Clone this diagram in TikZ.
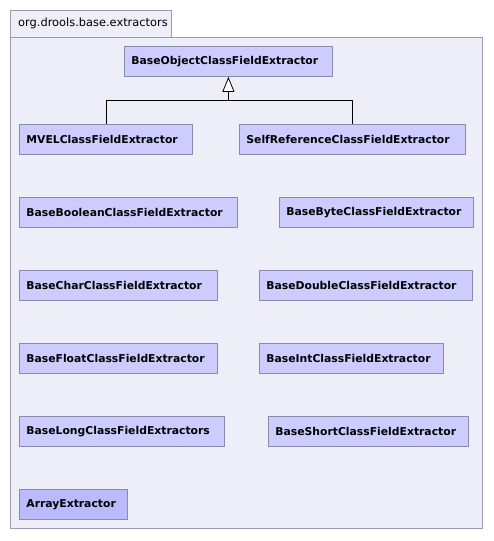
\documentclass[tikz,border=0pt]{standalone}
\usepackage{fontspec}
\setsansfont{DejaVu Sans}
\usetikzlibrary{arrows.meta, calc}

\definecolor{pkgfill}{HTML}{EEEEF9}
\definecolor{pkgline}{HTML}{9A9AB0}
\definecolor{clsfill}{HTML}{CCCCFF}
\definecolor{clsline}{HTML}{8A8AAA}
\definecolor{selfill}{HTML}{BBBBFB}

\begin{document}
\begin{tikzpicture}[
      x=1pt, y=-1pt,
      pkg/.style={draw=pkgline, fill=pkgfill, line width=0.8pt},
      cls/.style={rectangle, draw=clsline, fill=clsfill, line width=0.8pt, anchor=north west,
        minimum height=30pt, inner xsep=7pt, align=left,
        font=\sffamily\bfseries\fontsize{10.8}{13}\selectfont},
      inherit/.style={draw=black, line width=0.8pt},
      gen/.style={inherit, -{Triangle[open, length=15pt, width=12pt, fill=white]}}
    ]
    \useasboundingbox (0,0) rectangle (493,541);

    % package frame
    \draw[pkg] (10,37) rectangle (482,528);
    \draw[pkg] (10,10) rectangle (171,37);
    \node[anchor=west, inner sep=0pt, font=\sffamily\fontsize{11.4}{13}\selectfont] (pkgname) at (18,23.5) {org.drools.base.extractors};

    % classes
    \node[cls, text width=194pt] (obj) at (124,46) {BaseObjectClassFieldExtractor};
    \node[cls, text width=159pt] (mvel) at (19,124) {MVELClassFieldExtractor};
    \node[cls, text width=212pt] (self) at (239,124) {SelfReferenceClassFieldExtractor};

    \node[cls, text width=204pt] (bool) at (19,197) {BaseBooleanClassFieldExtractor};
    \node[cls, text width=180pt] (byte) at (279,197) {BaseByteClassFieldExtractor};
    \node[cls, text width=184pt] (char) at (19,270) {BaseCharClassFieldExtractor};
    \node[cls, text width=199pt] (double) at (259,270) {BaseDoubleClassFieldExtractor};
    \node[cls, text width=184pt] (float) at (19,343) {BaseFloatClassFieldExtractor};
    \node[cls, text width=170pt] (int) at (259,343) {BaseIntClassFieldExtractor};
    \node[cls, text width=191pt] (long) at (19,416) {BaseLongClassFieldExtractors};
    \node[cls, text width=186pt] (short) at (268,416) {BaseShortClassFieldExtractor};
    \node[cls, text width=94pt, fill=selfill] (array) at (19,489) {ArrayExtractor};

    % generalisation
    \coordinate (join) at ($(obj.south)+(0,24)$);
    \draw[inherit] (mvel.north) |- (join) -| (self.north);
    \draw[gen] (join) -- (obj.south);
\end{tikzpicture}
\end{document}
